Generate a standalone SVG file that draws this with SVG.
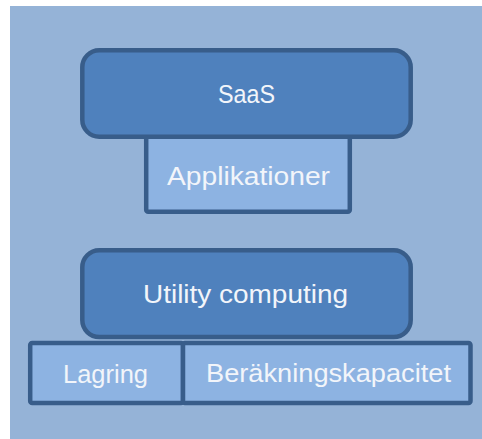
<svg xmlns="http://www.w3.org/2000/svg" width="482" height="439" viewBox="0 0 482 439">
  <style>
    .tier { fill: #4f81bd; stroke: #385d8a; stroke-width: 4.5; }
    .part { fill: #8db3e2; stroke: #385d8a; stroke-width: 4.5; }
    .lbl { font-family: "Liberation Sans", Arial, sans-serif; font-size: 26px; fill: #f2f5fa; text-anchor: middle; }
  </style>
  <rect x="0" y="0" width="482" height="439" fill="#ffffff"/>
  <rect x="10" y="6" width="472" height="433" fill="#95b3d7"/>

  <g id="connectors"></g>

  <!-- upper stack -->
  <g id="applikationer">
    <rect class="part" x="146.2" y="130" width="203.6" height="81.8" rx="2"/>
    <text class="lbl" x="248.5" y="185" textLength="163" lengthAdjust="spacingAndGlyphs">Applikationer</text>
  </g>
  <g id="saas">
    <rect class="tier" x="82.3" y="50.3" width="328.4" height="86.4" rx="17"/>
    <text class="lbl" x="246.5" y="103" textLength="57" lengthAdjust="spacingAndGlyphs">SaaS</text>
  </g>

  <!-- lower stack -->
  <g id="lagring">
    <rect class="part" x="30.2" y="343" width="152.8" height="60" rx="2"/>
    <text class="lbl" x="105.5" y="382.5" textLength="85" lengthAdjust="spacingAndGlyphs">Lagring</text>
  </g>
  <g id="berakningskapacitet">
    <rect class="part" x="183" y="343" width="287.5" height="60" rx="2"/>
    <text class="lbl" x="328.5" y="381.5" textLength="245" lengthAdjust="spacingAndGlyphs">Beräkningskapacitet</text>
  </g>
  <g id="utility-computing">
    <rect class="tier" x="82.3" y="250.3" width="328.4" height="86.8" rx="17"/>
    <text class="lbl" x="245.5" y="302.5" textLength="205" lengthAdjust="spacingAndGlyphs">Utility computing</text>
  </g>
</svg>
